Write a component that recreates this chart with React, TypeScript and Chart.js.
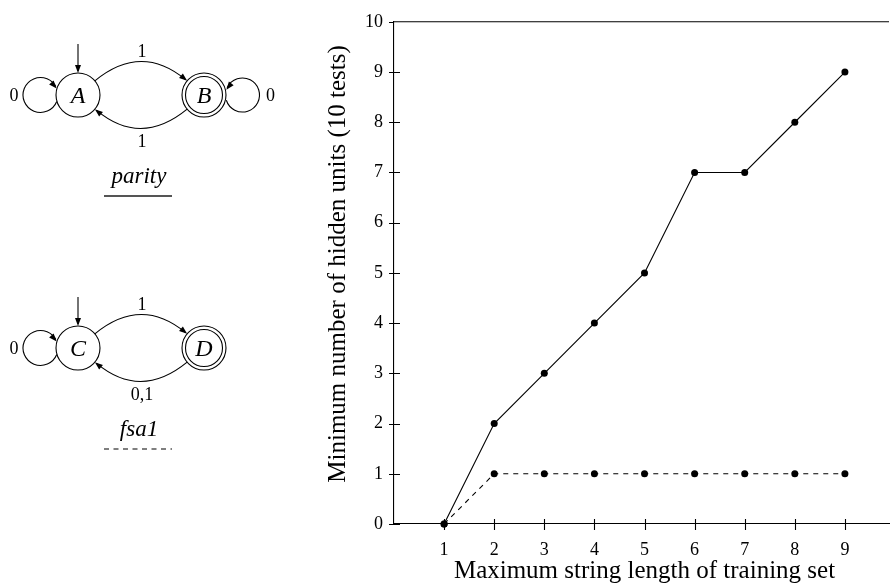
import React, { useEffect, useRef } from "react";
import { Chart, registerables } from "chart.js";

Chart.register(...registerables);

// ---- data ----
const maxStringLength = [1, 2, 3, 4, 5, 6, 7, 8, 9];
const parityHiddenUnits = [0, 2, 3, 4, 5, 7, 7, 8, 9];
const fsa1HiddenUnits = [0, 1, 1, 1, 1, 1, 1, 1, 1];
const xTickValues = [1, 2, 3, 4, 5, 6, 7, 8, 9];
const yTickValues = [0, 1, 2, 3, 4, 5, 6, 7, 8, 9, 10];
const xAxisTitle = "Maximum string length of training set";
const yAxisTitle = "Minimum number of hidden units (10 tests)";

const SERIF = "'Liberation Serif', 'Times New Roman', serif";

function arrowHead(ctx: CanvasRenderingContext2D, x: number, y: number, ang: number, len = 8, half = 3) {
  const c = Math.cos(ang), s = Math.sin(ang);
  ctx.beginPath();
  ctx.moveTo(x, y);
  ctx.lineTo(x - len * c + half * s, y - len * s - half * c);
  ctx.lineTo(x - len * c - half * s, y - len * s + half * c);
  ctx.closePath();
  ctx.fill();
}

function drawAutomaton(
  ctx: CanvasRenderingContext2D,
  oy: number,
  s1: string,
  s2: string,
  topLabel: string,
  bottomLabel: string,
  rightLoop: boolean,
  name: string,
  dashed: boolean
) {
  const ax = 78, bx = 204, cy = 95 + oy, r = 22;
  ctx.save();
  ctx.strokeStyle = "#000";
  ctx.fillStyle = "#000";
  ctx.lineWidth = 1.1;
  // states
  ctx.beginPath();
  ctx.arc(ax, cy, r, 0, Math.PI * 2);
  ctx.stroke();
  ctx.beginPath();
  ctx.arc(bx, cy, r, 0, Math.PI * 2);
  ctx.stroke();
  ctx.beginPath();
  ctx.arc(bx, cy, r - 3.5, 0, Math.PI * 2);
  ctx.stroke();
  // initial arrow
  ctx.beginPath();
  ctx.moveTo(ax, cy - 51);
  ctx.lineTo(ax, cy - r - 2);
  ctx.stroke();
  arrowHead(ctx, ax, cy - r, Math.PI / 2);
  // left loop on first state
  {
    const lx = 40.5, lr = 17.5;
    const a0 = (22 * Math.PI) / 180;
    const a1 = (338 * Math.PI) / 180;
    ctx.beginPath();
    ctx.arc(lx, cy, lr, a0, a1 - 0.12, false);
    ctx.stroke();
    const ex = lx + lr * Math.cos(a1), ey = cy + lr * Math.sin(a1);
    arrowHead(ctx, ex, ey, Math.atan2(Math.cos(a1), -Math.sin(a1)) - 0.35);
  }
  if (rightLoop) {
    const lx = 242.5, lr = 17;
    const a0 = (162 * Math.PI) / 180;
    const a1 = (-162 * Math.PI) / 180;
    ctx.beginPath();
    ctx.arc(lx, cy, lr, a0, a1 + 0.12, true);
    ctx.stroke();
    const ex = lx + lr * Math.cos(a1), ey = cy + lr * Math.sin(a1);
    arrowHead(ctx, ex, ey, Math.atan2(-Math.cos(a1), Math.sin(a1)) + 0.35);
  }
  // top arc A -> B
  const k = (40 * Math.PI) / 180;
  const p0x = ax + r * Math.cos(k), p0y = cy - r * Math.sin(k);
  const p2x = bx - r * Math.cos(k), p2y = cy - r * Math.sin(k);
  const cx1 = (ax + bx) / 2, cy1 = cy - 52;
  ctx.beginPath();
  ctx.moveTo(p0x, p0y);
  ctx.quadraticCurveTo(cx1, cy1, p2x - 2, p2y - 1.5);
  ctx.stroke();
  arrowHead(ctx, p2x, p2y, Math.atan2(p2y - cy1, p2x - cx1));
  // bottom arc B -> A
  const q0x = bx - r * Math.cos(k), q0y = cy + r * Math.sin(k);
  const q2x = ax + r * Math.cos(k), q2y = cy + r * Math.sin(k);
  const cy2 = cy + 52;
  ctx.beginPath();
  ctx.moveTo(q0x, q0y);
  ctx.quadraticCurveTo(cx1, cy2, q2x + 2, q2y + 1.5);
  ctx.stroke();
  arrowHead(ctx, q2x, q2y, Math.atan2(q2y - cy2, q2x - cx1));

  // labels
  ctx.textAlign = "center";
  ctx.textBaseline = "alphabetic";
  ctx.font = `18px ${SERIF}`;
  ctx.fillText(topLabel, 142, cy - 38);
  ctx.fillText(bottomLabel, 142, cy + 52);
  ctx.fillText("0", 14, cy + 6);
  if (rightLoop) ctx.fillText("0", 270.5, cy + 6);
  ctx.font = `italic 24px ${SERIF}`;
  ctx.fillText(s1, ax, cy + 8);
  ctx.fillText(s2, bx, cy + 8);
  ctx.font = `italic 23px ${SERIF}`;
  ctx.fillText(name, 139, cy + 88);
  // underline
  ctx.beginPath();
  if (dashed) {
    ctx.setLineDash([5, 4.5]);
    ctx.lineWidth = 1.2;
    ctx.strokeStyle = "#000";
  } else {
    ctx.lineWidth = 2;
    ctx.strokeStyle = "#555";
  }
  ctx.moveTo(104, cy + 101);
  ctx.lineTo(172, cy + 101);
  ctx.stroke();
  ctx.restore();
}

const decorPlugin = {
  id: "decor",
  afterDraw(chart: any) {
    const ctx: CanvasRenderingContext2D = chart.ctx;
    const { left, right, top, bottom } = chart.chartArea;
    const xs = chart.scales.x;
    const ys = chart.scales.y;
    ctx.save();
    ctx.strokeStyle = "#000";
    ctx.lineWidth = 1.1;
    // top frame line
    ctx.beginPath();
    ctx.moveTo(left, top);
    ctx.lineTo(right, top);
    ctx.stroke();
    // crossing tick marks
    ctx.beginPath();
    yTickValues.forEach((v) => {
      const py = Math.round(ys.getPixelForValue(v)) + 0.5;
      ctx.moveTo(left - 5, py);
      ctx.lineTo(v === 10 ? left : left + 6, py);
    });
    xTickValues.forEach((v) => {
      const px = Math.round(xs.getPixelForValue(v)) + 0.5;
      ctx.moveTo(px, bottom - 5);
      ctx.lineTo(px, bottom + 6);
    });
    ctx.stroke();
    // axis titles
    ctx.fillStyle = "#000";
    ctx.font = `25px ${SERIF}`;
    ctx.textAlign = "center";
    ctx.textBaseline = "alphabetic";
    ctx.fillText(xAxisTitle, xs.getPixelForValue(5), 578);
    ctx.translate(345, 264);
    ctx.rotate(-Math.PI / 2);
    ctx.fillText(yAxisTitle, 0, 0);
    ctx.restore();

    drawAutomaton(ctx, 0, "A", "B", "1", "1", true, "parity", false);
    drawAutomaton(ctx, 253, "C", "D", "1", "0,1", false, "fsa1", true);
  },
};

export default function App() {
  const ref = useRef<HTMLCanvasElement | null>(null);
  useEffect(() => {
    if (!ref.current) return;
    const chart = new Chart(ref.current, {
      type: "line",
      data: {
        datasets: [
          {
            label: "parity",
            data: maxStringLength.map((x, i) => ({ x, y: parityHiddenUnits[i] })),
            borderColor: "#000",
            backgroundColor: "#000",
            borderWidth: 1.1,
            pointRadius: 3.5,
            pointBorderWidth: 0,
            pointBackgroundColor: "#000",
            tension: 0,
            clip: false as any,
          },
          {
            label: "fsa1",
            data: maxStringLength.map((x, i) => ({ x, y: fsa1HiddenUnits[i] })),
            borderColor: "#000",
            backgroundColor: "#000",
            borderWidth: 1.1,
            borderDash: [5, 5],
            pointRadius: 3.5,
            pointBorderWidth: 0,
            pointBackgroundColor: "#000",
            tension: 0,
            clip: false as any,
          },
        ],
      },
      options: {
        animation: false,
        responsive: false,
        maintainAspectRatio: false,
        layout: { padding: { left: 350, top: 19, right: 0, bottom: 0 } },
        plugins: { legend: { display: false }, tooltip: { enabled: false } },
        scales: {
          x: {
            type: "linear",
            min: 0,
            max: 9.88,
            afterBuildTicks: (s: any) => {
              s.ticks = xTickValues.map((v) => ({ value: v }));
            },
            afterFit: (s: any) => {
              s.height = 60;
            },
            grid: { display: false, drawTicks: false },
            border: { display: true, color: "#000", width: 1.1 },
            ticks: {
              color: "#000",
              font: { family: SERIF, size: 18 },
              padding: 15,
              autoSkip: false,
              maxRotation: 0,
              callback: (v: any) => String(v),
            },
          },
          y: {
            type: "linear",
            min: 0,
            max: 10,
            afterBuildTicks: (s: any) => {
              s.ticks = yTickValues.map((v) => ({ value: v }));
            },
            afterFit: (s: any) => {
              s.width = 44;
            },
            grid: { display: false, drawTicks: false },
            border: { display: true, color: "#000", width: 1.1 },
            ticks: {
              color: "#000",
              font: { family: SERIF, size: 18 },
              padding: 11,
              autoSkip: false,
              callback: (v: any) => String(v),
            },
          },
        },
      },
      plugins: [decorPlugin],
    });
    return () => chart.destroy();
  }, []);
  return (
    <div style={{ position: "absolute", left: 0, top: 0, width: 893, height: 584, background: "#fff" }}>
      <canvas ref={ref} width={893} height={584} style={{ width: 893, height: 584, display: "block" }} />
    </div>
  );
}
